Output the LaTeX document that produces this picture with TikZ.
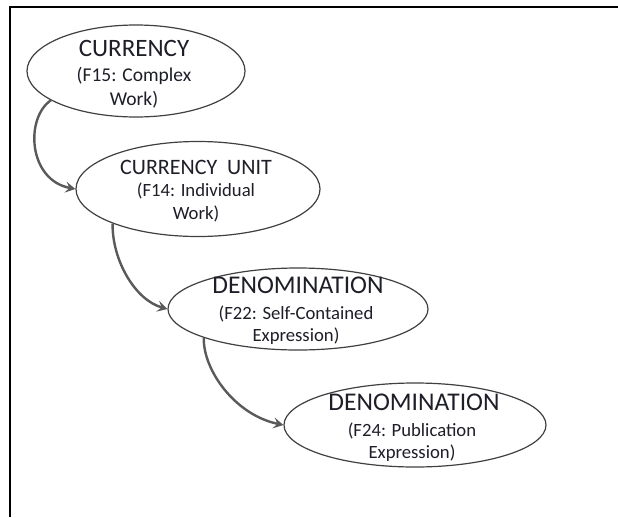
\documentclass[tikz,border=0pt]{standalone}
\usepackage{fontspec}
\setmainfont{Carlito}
\usetikzlibrary{shapes.geometric,arrows.meta}
\definecolor{arrowgray}{HTML}{5A5A5A}
\definecolor{edgegray}{HTML}{404040}
\definecolor{txtcol}{HTML}{1E1E28}
\begin{document}
\begin{tikzpicture}[x=1pt,y=-1pt,
  ell/.style={ellipse, draw=edgegray, line width=1.2pt, inner sep=0, fill=white},
  ttl/.style={anchor=base, inner sep=0, text=txtcol},
  sub/.style={anchor=base, inner sep=0, text=txtcol, font=\fontsize{18.7}{22}\selectfont},
  flow/.style={draw=arrowgray, line width=2.4pt, -{Stealth[length=10pt,width=11pt,inset=4pt]}}]
\useasboundingbox (0,0) rectangle (618,517);
\fill[white] (0,0) rectangle (618,517);
\coordinate (fa) at (10,517);
\coordinate (fb) at (10,7);
\coordinate (fc) at (618,7);
\draw[line width=2pt] (fa) -- (fb) -- (fc);

\node[ell, minimum width=218, minimum height=92] (e1) at (136,71) {};
\node[ell, minimum width=244, minimum height=95] (e2) at (198,189) {};
\node[ell, minimum width=260, minimum height=82] (e3) at (298,309) {};
\node[ell, minimum width=262, minimum height=84] (e4) at (415,425) {};

% CURRENCY
\node[ttl, font=\fontsize{25}{27}\selectfont] (t1a) at (134,56) {CURRENCY};
\node[sub, font=\fontsize{19.5}{22}\selectfont] (t1b) at (134,81) {(F15: Complex};
\node[sub, font=\fontsize{19.5}{22}\selectfont] (t1c) at (134,105) {Work)};
% CURRENCY UNIT
\node[ttl, font=\fontsize{22}{24}\selectfont] (t2a) at (196,174) {CURRENCY\ \ UNIT};
\node[sub] (t2b) at (196,196) {(F14: Individual};
\node[sub] (t2c) at (196,219) {Work)};
% DENOMINATION (F22)
\node[ttl, font=\fontsize{25.5}{27}\selectfont] (t3a) at (298,293) {DENOMINATION};
\node[sub] (t3b) at (296,319) {(F22: Self-Contained};
\node[sub] (t3c) at (296,341) {Expression)};
% DENOMINATION (F24)
\node[ttl, font=\fontsize{25.5}{27}\selectfont] (t4a) at (414,410) {DENOMINATION};
\node[sub] (t4b) at (412,436) {(F24: Publication};
\node[sub] (t4c) at (412,458) {Expression)};

\draw[flow] (e1.199) .. controls (25,118) and (28,180) .. (e2.west);
\draw[flow] (e2.202) .. controls (112,260) and (135,300) .. (e3.west);
\draw[flow] (e3.197) .. controls (203,370) and (235,415) .. (e4.west);
\end{tikzpicture}
\end{document}
